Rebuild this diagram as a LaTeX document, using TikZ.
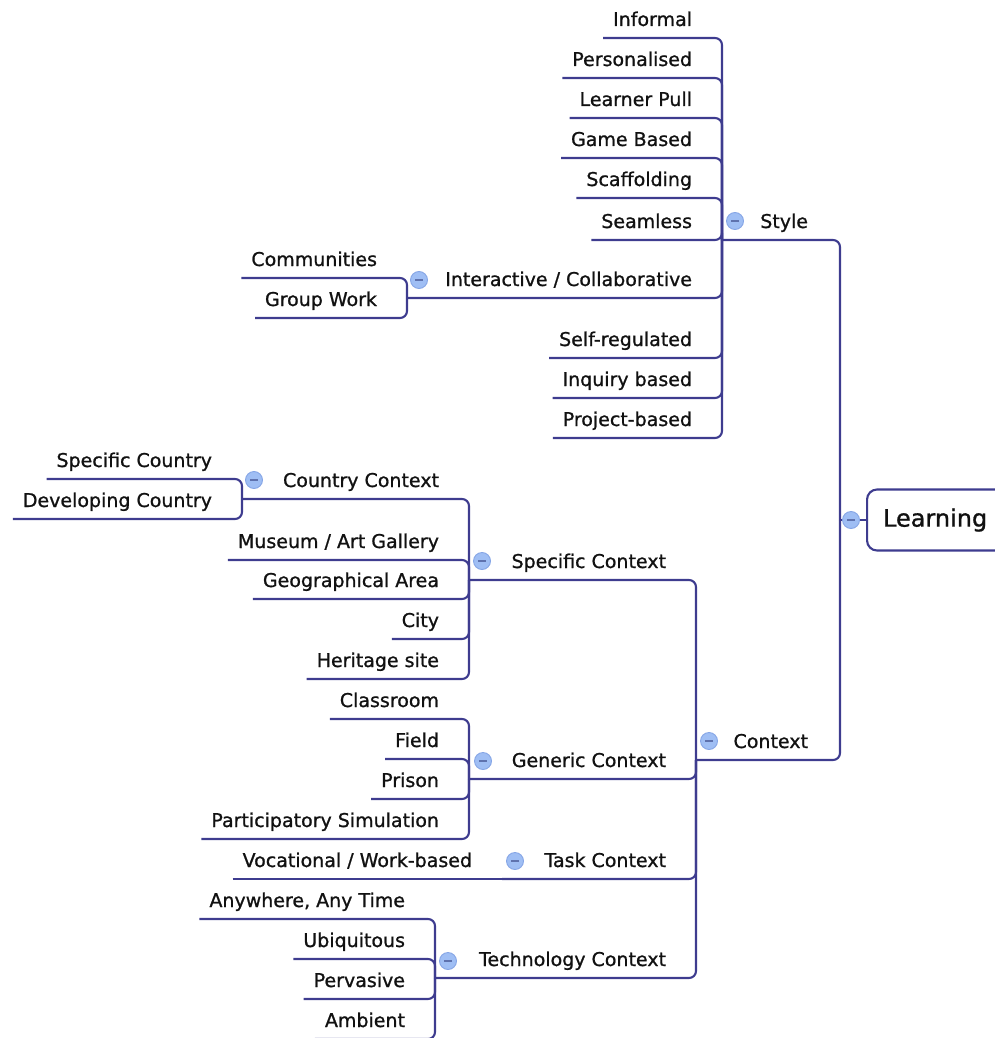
\documentclass[tikz,border=0pt]{standalone}
\usepackage{fontspec}
\setmainfont{DejaVu Sans}[FakeBold=1.0]
\usetikzlibrary{calc}
\definecolor{linkcol}{HTML}{3E3C8F}
\definecolor{togfill}{HTML}{9FBEF4}
\definecolor{togdraw}{HTML}{86A6E6}
\definecolor{togbar}{HTML}{5E72AE}
\definecolor{inkcol}{HTML}{111111}
% a leaf topic: underline from just left of its text, then into the parent's trunk
\newcommand\branchline[2]{\draw[link] ([shift={(-10pt,-12pt)}]#1.base west) -| (#2);}
\begin{document}
\begin{tikzpicture}[x=1pt,y=-1pt,
  topic/.style={font=\fontsize{19}{22}\selectfont, text=inkcol, inner sep=0pt, outer sep=0pt, anchor=base east},
  link/.style={draw=linkcol, line width=2.1pt, rounded corners=7pt},
  toggle/.style={circle, fill=togfill, draw=togdraw, line width=0.9pt, minimum size=17pt, inner sep=0pt,
    path picture={\draw[togbar, line width=1.5pt]
      ([xshift=-4pt]path picture bounding box.center) -- ([xshift=4pt]path picture bounding box.center);}},
  rootbox/.style={draw=linkcol, line width=2.1pt, rounded corners=10pt, anchor=west,
    minimum height=61pt, text width=120pt, inner xsep=16pt, align=left,
    font=\fontsize{24}{28}\selectfont, text=inkcol}
]
\useasboundingbox (0,0) rectangle (995,1038);

% ---- trunk points (where a parent's underline meets its children's trunk)
\coordinate (lrn-t) at (840,520);
\coordinate (sty-t) at (722,240);
\coordinate (ctx-t) at (696,760);
\coordinate (int-t) at (407,298);
\coordinate (spc-t) at (469,580);
\coordinate (cty-t) at (242,499);
\coordinate (gen-t) at (469,779);
\coordinate (tsk-t) at (502,879);
\coordinate (tec-t) at (435,978);

% ---- root
\node[rootbox] (lrn) at (866,520) {Learning};

% ---- main branches
\node[topic] (sty) at (808,228) {Style};
\node[topic] (ctx) at (808,748) {Context};

% ---- Style
\node[topic] (inf) at (692,26) {Informal};
\node[topic] (per) at (692,66) {Personalised};
\node[topic] (lpu) at (692,106) {Learner Pull};
\node[topic] (gam) at (692,146) {Game Based};
\node[topic] (sca) at (692,186) {Scaffolding};
\node[topic] (sea) at (692,228) {Seamless};
\node[topic] (int) at (692,286) {Interactive / Collaborative};
\node[topic] (slf) at (692,346) {Self-regulated};
\node[topic] (inq) at (692,386) {Inquiry based};
\node[topic] (prj) at (692,426) {Project-based};
\node[topic] (com) at (377,266) {Communities};
\node[topic] (grp) at (377,306) {Group Work};

% ---- Context
\node[topic] (spc) at (666,568) {Specific Context};
\node[topic] (gen) at (666,767) {Generic Context};
\node[topic] (tsk) at (666,867) {Task Context};
\node[topic] (tec) at (666,966) {Technology Context};

\node[topic] (cty) at (439,487) {Country Context};
\node[topic] (mus) at (439,548) {Museum / Art Gallery};
\node[topic] (geo) at (439,587) {Geographical Area};
\node[topic] (cit) at (439,627) {City};
\node[topic] (her) at (439,667) {Heritage site};
\node[topic] (spn) at (212,467) {Specific Country};
\node[topic] (dev) at (212,507) {Developing Country};

\node[topic] (cls) at (439,707) {Classroom};
\node[topic] (fld) at (439,747) {Field};
\node[topic] (pri) at (439,787) {Prison};
\node[topic] (par) at (439,827) {Participatory Simulation};

\node[topic] (voc) at (472,867) {Vocational / Work-based};

\node[topic] (any) at (405,907) {Anywhere, Any Time};
\node[topic] (ubi) at (405,947) {Ubiquitous};
\node[topic] (pvs) at (405,987) {Pervasive};
\node[topic] (amb) at (405,1027) {Ambient};

% ---- connectors
\draw[link] (sty-t) -| (lrn-t);
\draw[link] (ctx-t) -| (lrn-t);
\draw[link] (lrn-t) -- (lrn.west);

\branchline{inf}{sty-t}
\branchline{per}{sty-t}
\branchline{lpu}{sty-t}
\branchline{gam}{sty-t}
\branchline{sca}{sty-t}
\branchline{sea}{sty-t}
\draw[link] (int-t) -| (sty-t);
\branchline{slf}{sty-t}
\branchline{inq}{sty-t}
\branchline{prj}{sty-t}
\branchline{com}{int-t}
\branchline{grp}{int-t}

\draw[link] (spc-t) -| (ctx-t);
\draw[link] (gen-t) -| (ctx-t);
\draw[link] (tsk-t) -| (ctx-t);
\draw[link] (tec-t) -| (ctx-t);

\draw[link] (cty-t) -| (spc-t);
\branchline{mus}{spc-t}
\branchline{geo}{spc-t}
\branchline{cit}{spc-t}
\branchline{her}{spc-t}
\branchline{spn}{cty-t}
\branchline{dev}{cty-t}

\branchline{cls}{gen-t}
\branchline{fld}{gen-t}
\branchline{pri}{gen-t}
\branchline{par}{gen-t}

% the single task child shares its parent's line
\draw[link] ([shift={(-10pt,-12pt)}]voc.base west) -- (tsk-t);

\branchline{any}{tec-t}
\branchline{ubi}{tec-t}
\branchline{pvs}{tec-t}
\branchline{amb}{tec-t}

% ---- collapse toggles
\node[toggle] (lrn-i) at ($(lrn-t)+(11,0)$) {};
\node[toggle] (sty-i) at ($(sty-t)+(13,-19)$) {};
\node[toggle] (ctx-i) at ($(ctx-t)+(13,-19)$) {};
\node[toggle] (int-i) at ($(int-t)+(12,-18)$) {};
\node[toggle] (spc-i) at ($(spc-t)+(13,-19)$) {};
\node[toggle] (cty-i) at ($(cty-t)+(12,-19)$) {};
\node[toggle] (gen-i) at ($(gen-t)+(14,-18)$) {};
\node[toggle] (tsk-i) at ($(tsk-t)+(13,-18)$) {};
\node[toggle] (tec-i) at ($(tec-t)+(13,-17)$) {};
\end{tikzpicture}
\end{document}
